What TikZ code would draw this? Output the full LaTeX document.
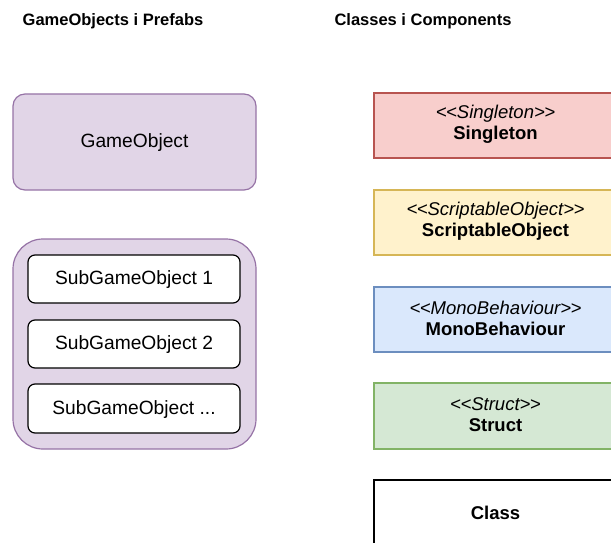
\documentclass[tikz,border=0pt]{standalone}
\usepackage{fontspec}
\setmainfont{Liberation Sans}
\definecolor{purpF}{HTML}{E1D5E7}\definecolor{purpD}{HTML}{9673A6}
\definecolor{redF}{HTML}{F8CECC}\definecolor{redD}{HTML}{B85450}
\definecolor{yelF}{HTML}{FFF2CC}\definecolor{yelD}{HTML}{D6B656}
\definecolor{bluF}{HTML}{DAE8FC}\definecolor{bluD}{HTML}{6C8EBF}
\definecolor{grnF}{HTML}{D5E8D4}\definecolor{grnD}{HTML}{82B366}
\newcommand{\stereo}[1]{{<}\kern-0.5pt{<}#1{>}\kern-0.5pt{>}}
\begin{document}
\begin{tikzpicture}[x=1pt,y=-1pt,
  title/.style={font=\fontsize{16.5}{20}\selectfont\bfseries, anchor=center},
  txt/.style={font=\fontsize{19.2}{21}\selectfont, align=center},
  stxt/.style={font=\fontsize{18.5}{21}\selectfont, align=center},
  purpbox/.style={draw=purpD, fill=purpF, line width=1.2pt},
  subbox/.style={draw=black, fill=white, line width=1.2pt, rounded corners=7pt},
  classbox/.style={line width=1.2pt}]
\useasboundingbox (0,0) rectangle (611,543);
\begin{scope}
\clip (0,0) rectangle (611,543);
\node[title] (t1) at (113,21.5) {GameObjects i Prefabs};
\node[title] (t2) at (423,21.5) {Classes i Components};

\draw[purpbox, rounded corners=12pt] (13,94) rectangle (256,190);
\node[txt] (go) at (134.5,143) {GameObject};

\draw[purpbox, rounded corners=30pt] (13,239) rectangle (256,449);
\draw[subbox] (28,255) rectangle (240,303);
\node[txt] (s1) at (134,280) {SubGameObject 1};
\draw[subbox] (28,320) rectangle (240,368);
\node[txt] (s2) at (134,345) {SubGameObject 2};
\draw[subbox] (28,384) rectangle (240,433);
\node[txt] (s3) at (134,409.5) {SubGameObject ...};

\draw[classbox, draw=redD, fill=redF] (374,93) rectangle (617,158);
\node[stxt] (c1) at (495.5,124.5) {\itshape \stereo{Singleton}\\\bfseries Singleton};
\draw[classbox, draw=yelD, fill=yelF] (374,190) rectangle (617,255);
\node[stxt] (c2) at (495.5,221.5) {\itshape \stereo{ScriptableObject}\\\bfseries ScriptableObject};
\draw[classbox, draw=bluD, fill=bluF] (374,287) rectangle (617,352);
\node[stxt] (c3) at (495.5,318.5) {\itshape \stereo{MonoBehaviour}\\\bfseries MonoBehaviour};
\draw[classbox, draw=grnD, fill=grnF] (374,383) rectangle (617,449);
\node[stxt] (c4) at (495.5,414.5) {\itshape \stereo{Struct}\\\bfseries Struct};
\draw[classbox, draw=black, fill=white] (374,480) rectangle (617,548);
\node[stxt] (c5) at (495.5,513) {\bfseries Class};
\end{scope}
\end{tikzpicture}
\end{document}
